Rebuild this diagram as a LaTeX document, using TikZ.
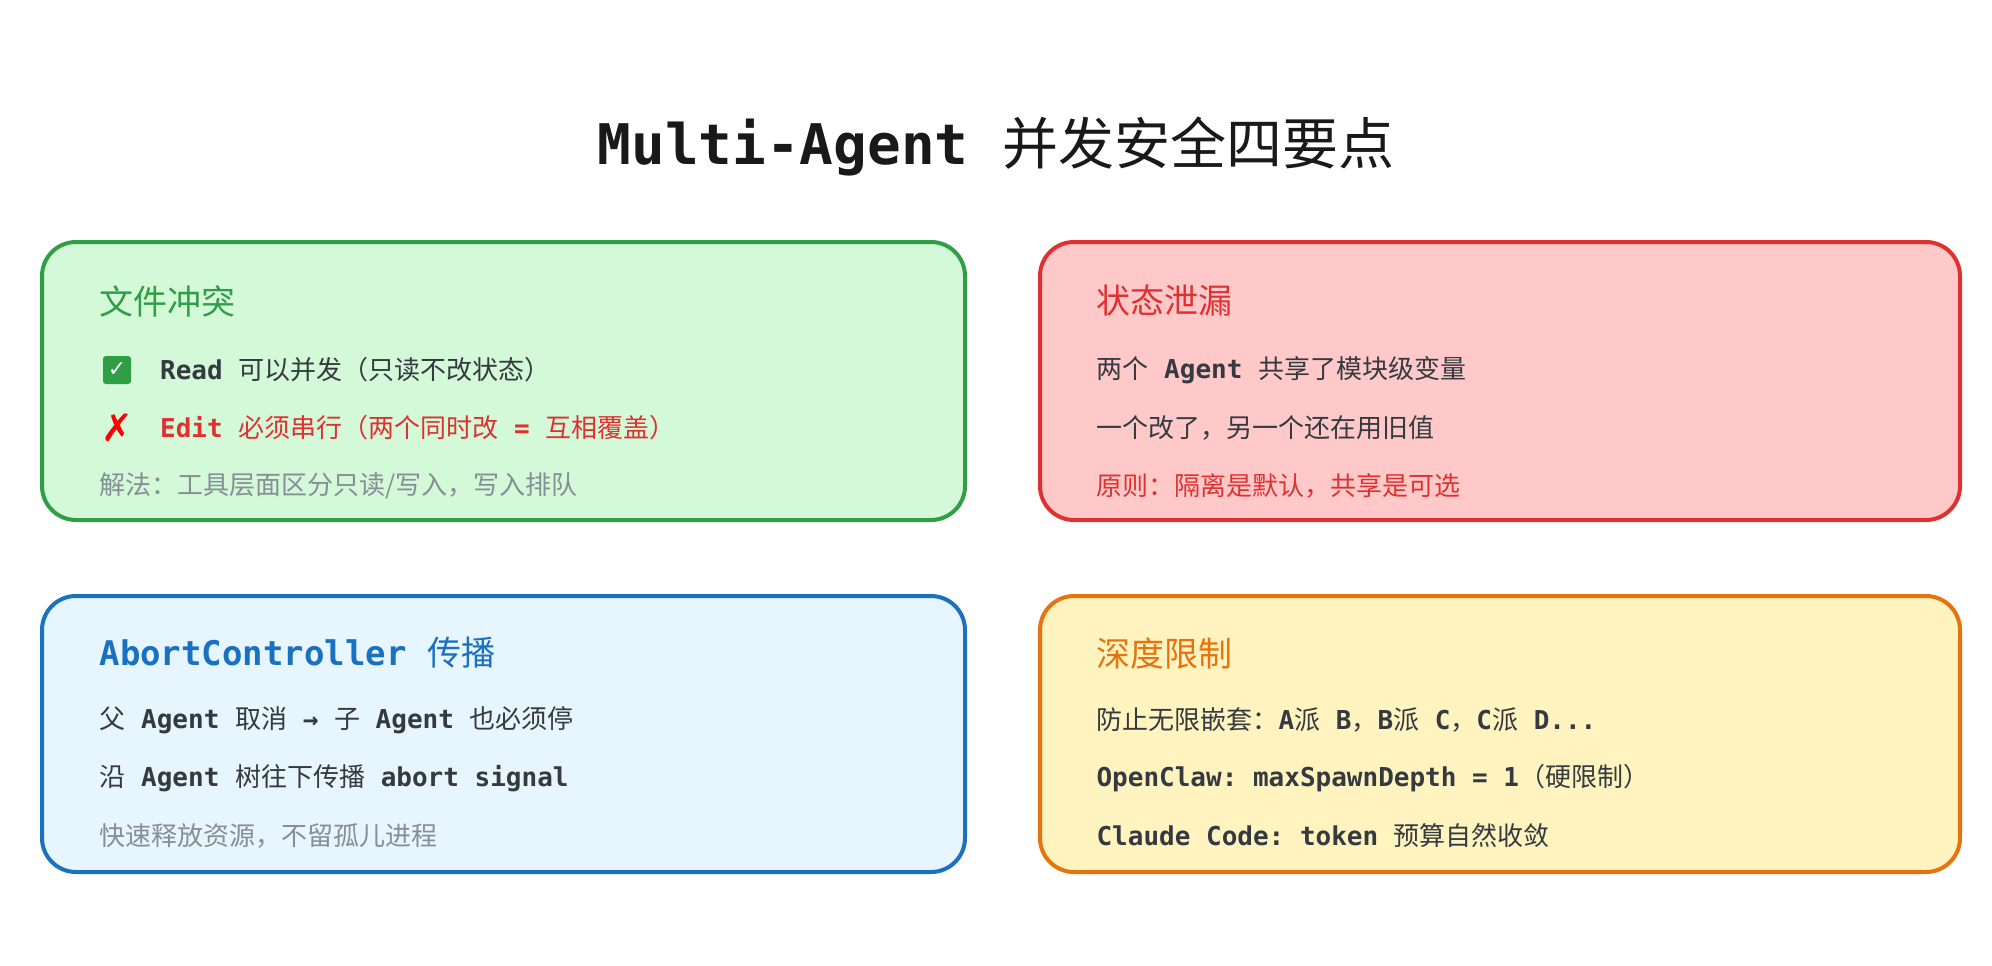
\documentclass[tikz,border=0pt]{standalone}
\usepackage{fontspec}
\setmainfont{Noto Sans CJK SC}
\setmonofont{DejaVu Sans Mono}
\newfontfamily\sym{DejaVu Sans}
\definecolor{gb}{HTML}{2F9E44}\definecolor{gf}{HTML}{D3F9D8}
\definecolor{rb}{HTML}{E03131}\definecolor{rf}{HTML}{FFC9C9}
\definecolor{bb}{HTML}{1971C2}\definecolor{bf}{HTML}{E7F5FF}
\definecolor{ob}{HTML}{E8730C}\definecolor{of}{HTML}{FFF3BF}
\definecolor{tx}{HTML}{343A40}\definecolor{mu}{HTML}{868E96}
\newcommand{\M}[1]{{\ttfamily\bfseries #1}}
\begin{document}
\begin{tikzpicture}[x=1pt,y=-1pt,
 box/.style={draw=#1b,fill=#1f,line width=4pt,rounded corners=34pt},
 hd/.style={anchor=west,font=\fontsize{34}{40}\selectfont,text=#1},
 ln/.style={anchor=west,font=\fontsize{26}{30}\selectfont,text=tx},
 ti/.style={font=\fontsize{56}{64}\selectfont,text=black!90}]
\useasboundingbox (0,0) rectangle (1992,966);
\fill[white] (0,0) rectangle (1992,966);
\node[ti] (title) at (996,146) {\M{Multi-Agent }并发安全四要点};
% green
\draw[box=g] (42,242) rectangle (965,520);
\node[hd=gb] (g0) at (96,301) {文件冲突};
\node[fill=gb,rounded corners=3pt,minimum size=28pt,inner sep=0pt,text=white,font=\sym\bfseries\fontsize{22}{22}\selectfont] (gc) at (117,370) {✓};
\node[ln] (g1) at (141,370) {\M{ Read }可以并发（只读不改状态）};
\node[text=red,font=\sym\bfseries\fontsize{38}{38}\selectfont,inner sep=0pt] (gx) at (117,428) {✗};
\node[ln,text=rb] (g2) at (141,428) {\M{ Edit }必须串行（两个同时改\M{ = }互相覆盖）};
\node[ln,text=mu] (g3) at (96,486) {解法：工具层面区分只读/写入，写入排队};
% red
\draw[box=r] (1040,242) rectangle (1960,520);
\node[hd=rb] (r0) at (1093,301) {状态泄漏};
\node[ln] (r1) at (1093,370) {两个\M{ Agent }共享了模块级变量};
\node[ln] (r2) at (1093,428) {一个改了，另一个还在用旧值};
\node[ln,text=rb] (r3) at (1093,486) {原则：隔离是默认，共享是可选};
% blue
\draw[box=b] (42,596) rectangle (965,872);
\node[hd=bb] (b0) at (96,653) {\M{AbortController }传播};
\node[ln] (b1) at (96,720) {父\M{ Agent }取消\M{ → }子\M{ Agent }也必须停};
\node[ln] (b2) at (96,778) {沿\M{ Agent }树往下传播\M{ abort signal}};
\node[ln,text=mu] (b3) at (96,836) {快速释放资源，不留孤儿进程};
% orange
\draw[box=o] (1040,596) rectangle (1960,872);
\node[hd=ob] (o0) at (1093,653) {深度限制};
\node[ln] (o1) at (1093,720) {防止无限嵌套：\M{A}派\M{ B}，\M{B}派\M{ C}，\M{C}派\M{ D...}};
\node[ln] (o2) at (1093,778) {\M{OpenClaw: maxSpawnDepth = 1}（硬限制）};
\node[ln] (o3) at (1093,836) {\M{Claude Code: token }预算自然收敛};
\end{tikzpicture}
\end{document}
